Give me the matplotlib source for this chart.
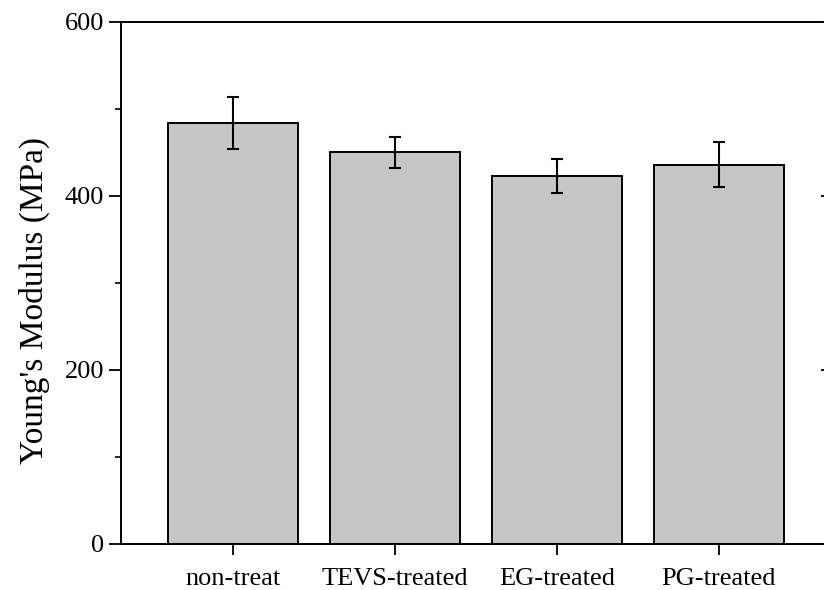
import matplotlib
matplotlib.use("Agg")
import matplotlib.pyplot as plt
from matplotlib.ticker import MultipleLocator

categories = ["non-treat", "TEVS-treated", "EG-treated", "PG-treated"]
modulus = [484, 450, 423, 436]
errors = [30, 18, 20, 26]
yticks = [0, 200, 400, 600]

plt.rcParams['font.family'] = ['Liberation Serif', 'DejaVu Serif']

fig = plt.figure(figsize=(8.24, 5.90), dpi=100)
ax = fig.add_axes([121/824, 46/590, (829-121)/824, (544-22)/590])

x = list(range(len(categories)))
ax.bar(x, modulus, width=0.8, color="#c6c6c6", edgecolor="black", linewidth=1.4, zorder=2)
ax.errorbar(x, modulus, yerr=errors, fmt="none", ecolor="black", elinewidth=1.5,
            capsize=4, capthick=1.5, zorder=3)

ax.set_xlim(-0.69, 3.68)
ax.set_ylim(0, 600)
ax.set_yticks(yticks)
ax.yaxis.set_minor_locator(MultipleLocator(100))
ax.set_xticks(x)
ax.set_xticklabels(categories)

for s in ax.spines.values():
    s.set_linewidth(1.4)

ax.tick_params(axis="y", which="major", direction="out", length=9, width=1.3,
               labelsize=19, pad=3, right=True)
ax.tick_params(axis="y", which="minor", direction="out", length=4, width=1.2)
ax.tick_params(axis="x", which="major", direction="out", length=8, width=1.3,
               labelsize=19, pad=9)
# right-side ticks point inward
for t in ax.yaxis.get_major_ticks():
    t.tick2line.set_marker(matplotlib.lines.TICKLEFT)
    t.tick2line.set_markersize(6)

ax.set_ylabel("Young's Modulus (MPa)", fontsize=24)
ax.yaxis.set_label_coords(-0.10, 0.466)

fig.savefig("out.png", dpi=100)
